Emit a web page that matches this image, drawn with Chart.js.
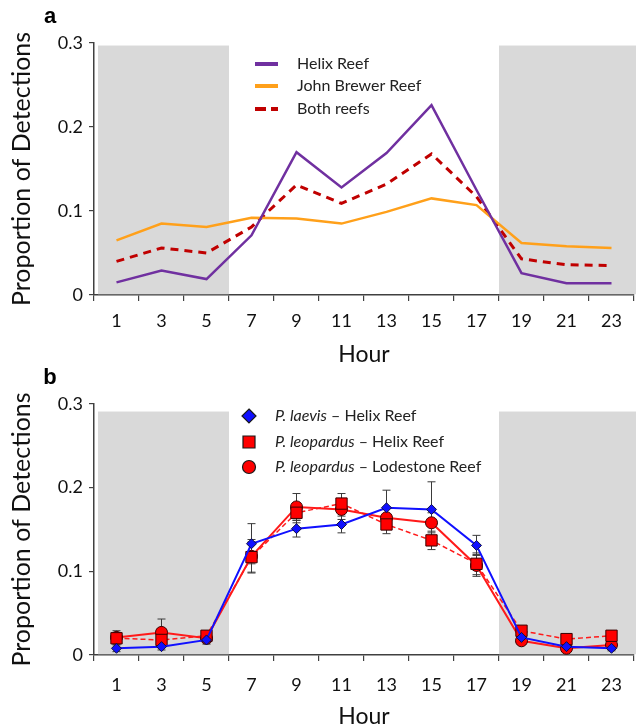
<!DOCTYPE html>
<html>
<head>
<meta charset="utf-8">
<script src="https://cdn.jsdelivr.net/npm/chart.js@4.4.1/dist/chart.umd.min.js"></script>
<style>
    html, body { margin: 0; padding: 0; background: #fff; }
    body { width: 636px; height: 727px; position: relative; overflow: hidden; }
    canvas { position: absolute; left: 0; }
    #chartA { top: 0; }
    #chartB { top: 366px; }
</style>
</head>
<body>
<canvas id="chartA" width="636" height="369"></canvas>
<canvas id="chartB" width="636" height="365"></canvas>
<script>
// x categories (2-hour bins)
const hours = ['1', '3', '5', '7', '9', '11', '13', '15', '17', '19', '21', '23'];
const yTicks = [0, 0.1, 0.2, 0.3];

// panel a
const helixReef = [0.015, 0.029, 0.019, 0.071, 0.170, 0.128, 0.169, 0.226, 0.125, 0.026, 0.014, 0.014];
const johnBrewerReef = [0.065, 0.085, 0.081, 0.092, 0.091, 0.085, 0.099, 0.115, 0.107, 0.062, 0.058, 0.056];
const bothReefs = [0.040, 0.056, 0.050, 0.081, 0.131, 0.109, 0.132, 0.168, 0.117, 0.043, 0.036, 0.035];

// panel b
const laevisHelix = [0.008, 0.010, 0.018, 0.133, 0.151, 0.156, 0.176, 0.174, 0.131, 0.021, 0.010, 0.008];
const laevisHelixErr = [0.004, 0.004, 0.005, 0.024, 0.010, 0.010, 0.021, 0.033, 0.012, 0.004, 0.003, 0.003];
const leopardusHelix = [0.020, 0.018, 0.023, 0.117, 0.170, 0.181, 0.156, 0.137, 0.109, 0.029, 0.019, 0.023];
const leopardusHelixErr = [0.006, 0.005, 0.004, 0.018, 0.012, 0.012, 0.011, 0.011, 0.013, 0.004, 0.003, 0.006];
const leopardusLodestone = [0.021, 0.027, 0.020, 0.118, 0.177, 0.174, 0.164, 0.158, 0.107, 0.017, 0.008, 0.012];
const leopardusLodestoneErr = [0.008, 0.016, 0.004, 0.020, 0.016, 0.012, 0.012, 0.012, 0.013, 0.003, 0.003, 0.004];

const FONT = 'Lato, "Open Sans", sans-serif';
const AXIS_COLOR = '#404040';

// night hours shaded grey (first three and last three bins)
function shadePlugin(topValue) {
    return {
        id: 'shade',
        beforeDatasetsDraw(chart) {
            const { ctx, chartArea, scales: { x, y } } = chart;
            const top = y.getPixelForValue(topValue);
            const bottom = chartArea.bottom - 0.75;
            ctx.save();
            ctx.fillStyle = '#d9d9d9';
            const l1 = chartArea.left + 4, r1 = x.getPixelForValue(2.5);
            ctx.fillRect(l1, top, r1 - l1, bottom - top);
            const l2 = x.getPixelForValue(8.5), r2 = chartArea.right + 2;
            ctx.fillRect(l2, top, r2 - l2, bottom - top);
            ctx.restore();
        }
    };
}

const errorBarPlugin = {
    id: 'errorBars',
    beforeDatasetsDraw(chart) {
        const { ctx, scales: { x, y } } = chart;
        ctx.save();
        ctx.strokeStyle = '#3a3a3a';
        ctx.lineWidth = 1;
        chart.data.datasets.forEach(ds => {
            if (!ds.errorBars) return;
            ds.data.forEach((v, i) => {
                const px = x.getPixelForValue(i);
                const hi = y.getPixelForValue(v + ds.errorBars[i]);
                const lo = y.getPixelForValue(Math.max(0, v - ds.errorBars[i]));
                ctx.beginPath();
                ctx.moveTo(px, hi); ctx.lineTo(px, lo);
                ctx.moveTo(px - 4, hi); ctx.lineTo(px + 4, hi);
                ctx.moveTo(px - 4, lo); ctx.lineTo(px + 4, lo);
                ctx.stroke();
            });
        });
        ctx.restore();
    }
};

function panelLabel(text, px, py) {
    return {
        id: 'panelLabel',
        afterDraw(chart) {
            const ctx = chart.ctx;
            ctx.save();
            ctx.font = 'bold 22px "Liberation Sans", Arial, sans-serif';
            ctx.fillStyle = '#000';
            ctx.textAlign = 'center';
            ctx.textBaseline = 'middle';
            ctx.fillText(text, px, py);
            ctx.restore();
        }
    };
}

const legendA = {
    id: 'legendA',
    afterDraw(chart) {
        const ctx = chart.ctx;
        const rows = [64, 86, 109];
        ctx.save();
        ctx.font = '16px ' + FONT;
        ctx.textBaseline = 'middle';
        ctx.fillStyle = '#222';
        chart.data.datasets.forEach((ds, i) => {
            ctx.beginPath();
            ctx.strokeStyle = ds.borderColor;
            ctx.lineWidth = 4;
            ctx.setLineDash(ds.borderDash ? [11, 5] : []);
            ctx.moveTo(255, rows[i]);
            ctx.lineTo(278, rows[i]);
            ctx.stroke();
            ctx.fillText(ds.label, 297, rows[i]);
        });
        ctx.restore();
    }
};

const legendB = {
    id: 'legendB',
    afterDraw(chart) {
        const ctx = chart.ctx;
        const rows = [50, 76, 101];
        const mx = 249;
        ctx.save();
        ctx.textBaseline = 'middle';
        chart.data.datasets.forEach((ds, i) => {
            const cy = rows[i];
            ctx.fillStyle = ds.pointBackgroundColor;
            ctx.strokeStyle = '#1a1a1a';
            ctx.lineWidth = 1.2;
            ctx.setLineDash([]);
            ctx.beginPath();
            if (ds.pointStyle === 'rectRot') {
                ctx.moveTo(mx, cy - 7); ctx.lineTo(mx + 7, cy); ctx.lineTo(mx, cy + 7); ctx.lineTo(mx - 7, cy); ctx.closePath();
            } else if (ds.pointStyle === 'rect') {
                ctx.rect(mx - 6, cy - 6, 12, 12);
            } else {
                ctx.arc(mx, cy, 6.5, 0, Math.PI * 2);
            }
            ctx.fill();
            ctx.stroke();
            const [sp, reef] = ds.label.split('|');
            ctx.fillStyle = '#222';
            ctx.font = 'italic 16px ' + FONT;
            ctx.fillText(sp, 275, cy);
            const w = ctx.measureText(sp).width;
            ctx.font = '16px ' + FONT;
            ctx.fillText(' \u2013 ' + reef, 275 + w, cy);
        });
        ctx.restore();
    }
};

function makeScales(tickPad, axisHeight) {
    return {
        x: {
            type: 'category',
            offset: true,
            grid: { offset: true, drawOnChartArea: false, drawTicks: true, tickLength: 6, color: AXIS_COLOR, lineWidth: 1.2 },
            border: { color: AXIS_COLOR, width: 1.5 },
            ticks: { color: '#111', font: { family: FONT, size: 18 }, padding: tickPad, maxRotation: 0, autoSkip: false },
            title: { display: true, text: 'Hour', color: '#111', font: { family: FONT, size: 23 }, padding: { top: 0, bottom: 1 } },
            afterFit: s => { s.height = axisHeight; }
        },
        y: {
            min: 0,
            max: 0.3,
            afterBuildTicks: s => { s.ticks = yTicks.map(v => ({ value: v })); },
            grid: { drawOnChartArea: false, drawTicks: true, tickLength: 5, color: AXIS_COLOR, lineWidth: 1.2 },
            border: { color: AXIS_COLOR, width: 1.5 },
            ticks: {
                color: '#111', font: { family: FONT, size: 18 }, padding: 6,
                callback: v => v === 0 ? '0' : v.toFixed(1)
            },
            title: { display: true, text: 'Proportion of Detections', color: '#111', font: { family: FONT, size: 25 }, padding: { top: 7, bottom: 0 } },
            afterFit: s => { s.width = 94; }
        }
    };
}

const baseOptions = (tickPad, padTop, axisHeight) => ({
    responsive: false,
    animation: false,
    devicePixelRatio: 1,
    layout: { autoPadding: false, padding: { top: padTop, left: 0, right: 2, bottom: 0 } },
    plugins: { legend: { display: false }, tooltip: { enabled: false } },
    elements: { line: { tension: 0 } },
    scales: makeScales(tickPad, axisHeight)
});

new Chart(document.getElementById('chartA'), {
    type: 'line',
    data: {
        labels: hours,
        datasets: [
            { label: 'Helix Reef', data: helixReef, borderColor: '#7030a0', borderWidth: 2.5, pointRadius: 0 },
            { label: 'John Brewer Reef', data: johnBrewerReef, borderColor: '#ffa01a', borderWidth: 2.5, pointRadius: 0 },
            { label: 'Both reefs', data: bothReefs, borderColor: '#c00000', borderWidth: 3, borderDash: [8, 6], pointRadius: 0 }
        ]
    },
    options: baseOptions(9, 43, 74),
    plugins: [shadePlugin(0.297), legendA, panelLabel('a', 50, 17)]
});

new Chart(document.getElementById('chartB'), {
    type: 'line',
    data: {
        labels: hours,
        datasets: [
            {
                label: 'P. laevis|Helix Reef', data: laevisHelix, errorBars: laevisHelixErr,
                borderColor: '#1010ff', borderWidth: 2,
                pointStyle: 'rectRot', pointRadius: 5, pointBackgroundColor: '#1010ff', pointBorderColor: '#101040', pointBorderWidth: 1
            },
            {
                label: 'P. leopardus|Helix Reef', data: leopardusHelix, errorBars: leopardusHelixErr,
                borderColor: '#ff1a1a', borderWidth: 1.5, borderDash: [5, 3],
                pointStyle: 'rect', pointRadius: 8, pointBackgroundColor: '#ff0000', pointBorderColor: '#3a0000', pointBorderWidth: 1
            },
            {
                label: 'P. leopardus|Lodestone Reef', data: leopardusLodestone, errorBars: leopardusLodestoneErr,
                borderColor: '#ff1a1a', borderWidth: 2,
                pointStyle: 'circle', pointRadius: 6, pointBackgroundColor: '#ff0000', pointBorderColor: '#3a0000', pointBorderWidth: 1
            }
        ]
    },
    options: baseOptions(13, 38, 76),
    plugins: [shadePlugin(0.291), errorBarPlugin, legendB, panelLabel('b', 50, 12)]
});
</script>
</body>
</html>
